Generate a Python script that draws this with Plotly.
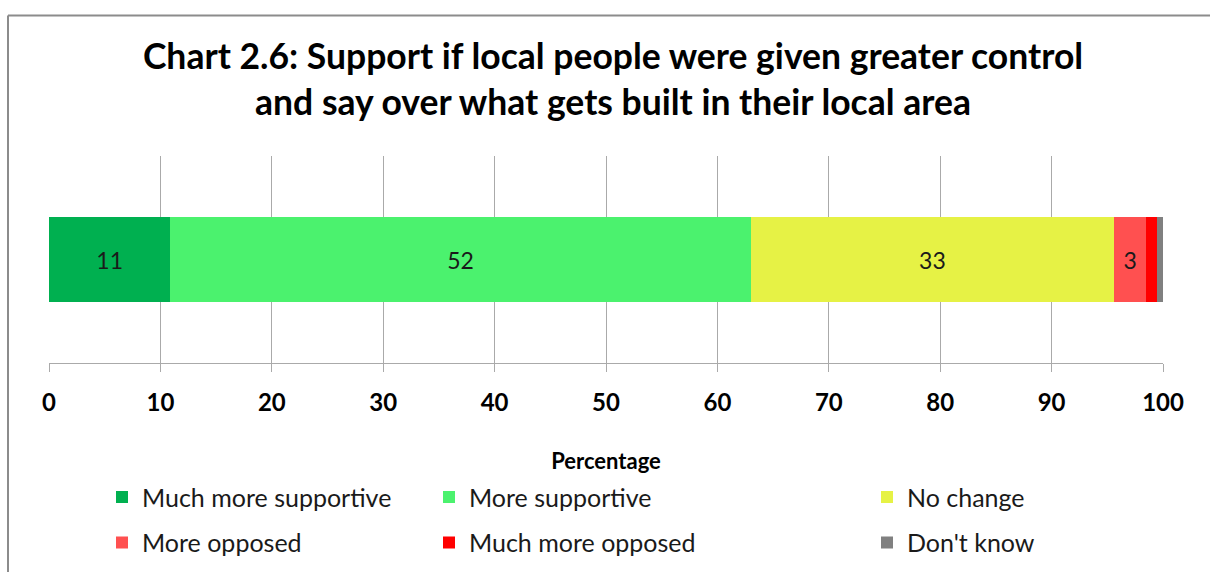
import plotly.graph_objects as go

categories = ["Support"]
series_names = ["Much more supportive", "More supportive", "No change",
                "More opposed", "Much more opposed", "Don't know"]
series_values = [10.9, 52.1, 32.6, 2.9, 1.0, 0.5]
series_labels = ["11", "52", "33", "3", "", ""]
series_colors = ["#00B050", "#4BF26E", "#E6F245", "#FF5050", "#FF0000", "#808080"]
legend_ids = ["legend", "legend2", "legend3", "legend", "legend2", "legend3"]
tick_values = [0, 10, 20, 30, 40, 50, 60, 70, 80, 90, 100]

FONT = "Lato"

fig = go.Figure()
for name, val, lab, col, lg in zip(series_names, series_values, series_labels,
                                    series_colors, legend_ids):
    fig.add_trace(go.Bar(
        y=categories, x=[val], name=name, orientation="h",
        marker=dict(color=col, line=dict(width=0)),
        text=[lab], textposition="inside", insidetextanchor="middle",
        textfont=dict(family=FONT, size=23, color="#1a1a1a"),
        constraintext="none",
        width=0.406, legend=lg, legendgroup=name,
    ))

W, H = 1210, 577
L, R, T, B = 49, 47, 156, 209
pw, ph = W - L - R, H - T - B


def px(x):
    return (x - L) / pw


def py(y):
    return (H - B - y) / ph


legend_common = dict(orientation="v", yanchor="top", xanchor="left",
                     font=dict(family=FONT, size=25, color="#1a1a1a"),
                     bgcolor="rgba(0,0,0,0)", tracegroupgap=10,
                     traceorder="grouped")

fig.update_layout(
    width=W, height=H,
    margin=dict(l=L, r=R, t=T, b=B),
    paper_bgcolor="white", plot_bgcolor="white",
    barmode="stack",
    title=dict(text="Chart 2.6: Support if local people were given greater control<br>"
                    "and say over what gets built in their local area",
               font=dict(family=FONT, size=35.5, color="#000000", weight="bold"),
               x=px(613), xref="paper", xanchor="center",
               y=1 - 69 / H, yref="container", yanchor="middle"),
    xaxis=dict(range=[0, 100], tickvals=tick_values, showgrid=True,
               gridcolor="#AAAAAA", gridwidth=1, showline=True, linecolor="#AAAAAA",
               linewidth=1, ticks="outside", ticklen=8, tickcolor="#AAAAAA",
               ticklabelstandoff=10,
               tickfont=dict(family=FONT, size=24, color="#000000", weight="bold"),
               zeroline=False, fixedrange=True,
               title=dict(text="Percentage", standoff=38,
                          font=dict(family=FONT, size=22, color="#000000", weight="bold"))),
    yaxis=dict(range=[-0.5, 0.5], showticklabels=False, showgrid=False,
               zeroline=False, showline=False, fixedrange=True),
    legend=dict(x=px(102), y=py(482), **legend_common),
    legend2=dict(x=px(429), y=py(482), **legend_common),
    legend3=dict(x=px(867), y=py(482), **legend_common),
    shapes=[
        dict(type="line", xref="paper", yref="paper", x0=px(8), x1=px(W + 5),
             y0=py(12), y1=py(12), line=dict(color="#8C8C8C", width=2)),
        dict(type="line", xref="paper", yref="paper", x0=px(8), x1=px(8),
             y0=py(12), y1=py(H + 5), line=dict(color="#8C8C8C", width=2)),
    ],
)

fig.write_html("out.html", config={"displayModeBar": False},
               post_script="document.body.style.margin='0';document.body.style.overflow='hidden';")
